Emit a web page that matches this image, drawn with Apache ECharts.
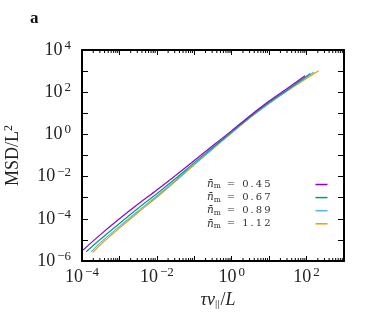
<!DOCTYPE html>
<html><head><meta charset="utf-8">
<script src="https://cdn.jsdelivr.net/npm/echarts@6/dist/echarts.min.js"></script>
<style>html,body{margin:0;padding:0;background:#fff}#c{width:375px;height:315px}</style>
</head><body><div id="c"></div>
<script>
// ---- data ----
const legendValues = ['0.45', '0.67', '0.89', '1.12'];
const seriesColors = ['#9400d3', '#009e73', '#56b4e9', '#e69f00'];
const msd045 = [[1.07e-4,3.3e-6],[3.16e-4,1.82e-5],[1e-3,1.0e-4],[3.16e-3,5.0e-4],[1e-2,2.3e-3],[3.16e-2,1.12e-2],[0.1,5.75e-2],[0.316,0.295],[1,1.51],[3.16,7.94],[10,38],[31.6,158],[91,603]];
const msd067 = [[1.29e-4,2.75e-6],[3.16e-4,1.1e-5],[1e-3,6.0e-5],[3.16e-3,3.16e-4],[1e-2,1.55e-3],[3.16e-2,8.1e-3],[0.1,4.6e-2],[0.316,0.245],[1,1.32],[3.16,7.08],[10,33],[31.6,135],[126,776]];
const msd089 = [[1.78e-4,2.75e-6],[3.16e-4,7.6e-6],[1e-3,4.37e-5],[3.16e-3,2.34e-4],[1e-2,1.2e-3],[3.16e-2,6.6e-3],[0.1,3.9e-2],[0.316,0.219],[1,1.23],[3.16,6.6],[10,30],[31.6,126],[158,912]];
const msd112 = [[1.95e-4,2.57e-6],[3.16e-4,6.0e-6],[1e-3,3.6e-5],[3.16e-3,2.0e-4],[1e-2,1.05e-3],[3.16e-2,6.0e-3],[0.1,3.6e-2],[0.316,0.209],[1,1.17],[3.16,6.3],[10,29],[31.6,120],[209,1047]];
const xMin = 1e-4, xMax = 1e3, yMin = 1e-6, yMax = 1e4;
const minorMultipliers = [2,3,4,5,6,7,8,9];

const seriesData = [msd045, msd067, msd089, msd112];
const FONT = 'Liberation Serif';
const LFONT = 'DejaVu Serif';

const minorTicks = [];
for (let e = -4; e < 3; e++) for (const m of minorMultipliers) minorTicks.push([m * Math.pow(10, e), yMin]);

function expLabel(v) {
  const e = Math.round(Math.log10(v));
  if (e % 2 !== 0) return '';
  return '{b|10}{s|' + (e < 0 ? '\u2212' + (-e) : e) + '}';
}
const labelRich = {
  b: {fontFamily: FONT, fontSize: 18, color: '#222'},
  s: {fontFamily: FONT, fontSize: 13, color: '#222', verticalAlign: 'bottom', padding: [0, 0, 9, 2]}
};

const chart = echarts.init(document.getElementById('c'), null, {renderer: 'canvas'});
const axisLine = {show: true, onZero: false, lineStyle: {color: '#000', width: 2}};
const option = {
  animation: false,
  backgroundColor: '#fff',
  title: {text: 'a', left: 25, top: 5, textStyle: {fontFamily: FONT, fontWeight: 'bold', fontSize: 17, color: '#111'}},
  grid: {left: 82, top: 50, width: 262, height: 211, containLabel: false, outerBoundsMode: 'none'},
  legend: {
    orient: 'vertical', left: 207, top: 179, padding: 0, align: 'right', icon: 'rect',
    itemWidth: 12, itemHeight: 1.5, itemGap: 1.6,
    formatter: function (name) { return '{n|n\u0304}{m|m}{v|\u2002=\u2002\u2009' + name.split('').join('\u2009') + '}{p|}'; },
    textStyle: {
      fontFamily: LFONT, fontSize: 10, color: '#333',
      rich: {
        n: {fontFamily: LFONT, fontSize: 10.5, fontStyle: 'italic', color: '#333'},
        m: {fontFamily: LFONT, fontSize: 7.5, color: '#333', verticalAlign: 'top', padding: [4, 1, 0, 0]},
        v: {fontFamily: LFONT, fontSize: 10, color: '#333'},
        p: {width: 40}
      }
    },
    data: legendValues
  },
  xAxis: [{
    type: 'log', logBase: 10, min: xMin, max: xMax, interval: 1,
    axisLine: axisLine,
    axisTick: {show: true, inside: true, length: 5, lineStyle: {color: '#000', width: 1}},
    axisLabel: {formatter: expLabel, rich: labelRich, margin: 5},
    splitLine: {show: false},
    name: '{i|\u03c4v}{s|||}{r|/}{i|L}', nameLocation: 'middle', nameGap: 30,
    nameTextStyle: {padding: [0, 0, 0, 10], rich: {
      i: {fontFamily: FONT, fontSize: 18, fontStyle: 'italic', color: '#222'},
      r: {fontFamily: FONT, fontSize: 18, color: '#222'},
      s: {fontFamily: FONT, fontSize: 11, color: '#222', verticalAlign: 'top', padding: [8, 1, 0, 0]}
    }}
  }, {
    type: 'log', logBase: 10, min: xMin, max: xMax, interval: 1, position: 'top',
    axisLine: axisLine,
    axisTick: {show: true, inside: true, length: 5, lineStyle: {color: '#000', width: 1}},
    axisLabel: {show: false}, splitLine: {show: false}
  }],
  yAxis: [{
    type: 'log', logBase: 10, min: yMin, max: yMax, interval: 1,
    axisLine: axisLine,
    axisTick: {show: true, inside: true, length: 6, lineStyle: {color: '#000', width: 1}},
    axisLabel: {formatter: expLabel, rich: labelRich, margin: 11},
    splitLine: {show: false},
    name: '{r|MSD/L}{s|2}', nameLocation: 'middle', nameGap: 58,
    nameTextStyle: {rich: {
      r: {fontFamily: FONT, fontSize: 18, color: '#222'},
      s: {fontFamily: FONT, fontSize: 12, color: '#222', verticalAlign: 'bottom', padding: [0, 0, 9, 0]}
    }}
  }, {
    type: 'log', logBase: 10, min: yMin, max: yMax, interval: 1, position: 'right',
    axisLine: axisLine,
    axisTick: {show: true, inside: true, length: 6, lineStyle: {color: '#000', width: 1}},
    axisLabel: {show: false}, splitLine: {show: false}
  }],
  series: legendValues.map((v, i) => ({
    name: v, type: 'line', data: seriesData[i], smooth: 0.3, showSymbol: false, symbol: 'none',
    lineStyle: {color: seriesColors[i], width: 1.2}, itemStyle: {color: seriesColors[i]}, z: 5 - i
  })).concat([{
    type: 'custom', silent: true, data: minorTicks, z: 10,
    renderItem: function (params, api) {
      const v = api.value(0);
      const b = api.coord([v, yMin]);
      const t = api.coord([v, yMax]);
      return {type: 'group', children: [
        {type: 'line', shape: {x1: b[0], y1: b[1], x2: b[0], y2: b[1] - 3}, style: {stroke: '#000', lineWidth: 1}},
        {type: 'line', shape: {x1: t[0], y1: t[1], x2: t[0], y2: t[1] + 3}, style: {stroke: '#000', lineWidth: 1}}
      ]};
    }
  }])
};
chart.setOption(option);
</script></body></html>
